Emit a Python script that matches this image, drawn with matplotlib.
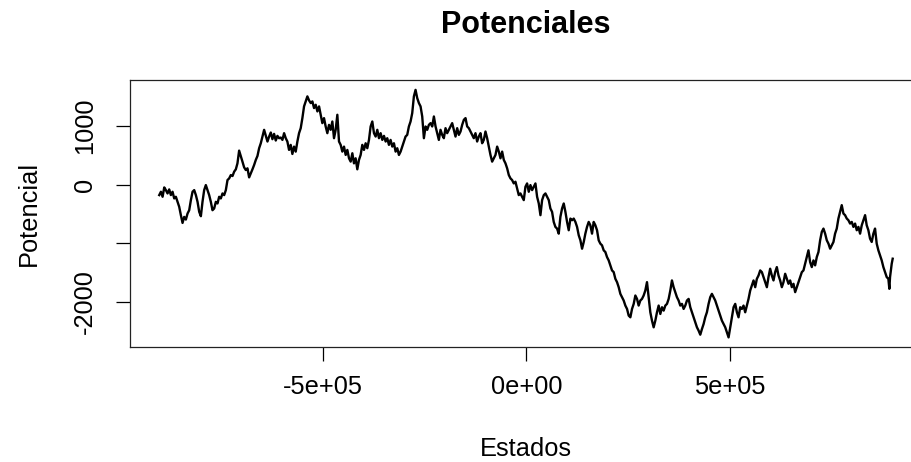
import matplotlib
matplotlib.use("Agg")
import matplotlib.pyplot as plt

# Trayectoria del potencial (estados en miles)
estados_miles = [
    -903.3, -899.2, -895.1, -891.0, -887.0, -882.9, -878.8, -874.7, -870.6, -866.5,
    -862.4, -858.3, -854.2, -850.1, -846.0, -841.9, -837.8, -833.7, -829.6, -825.5,
    -821.4, -817.3, -813.2, -809.1, -805.0, -800.9, -796.9, -792.8, -788.7, -784.6,
    -780.5, -776.4, -772.3, -768.2, -764.1, -760.0, -755.9, -751.8, -747.7, -743.6,
    -739.5, -735.4, -731.3, -727.2, -723.1, -719.0, -714.9, -710.9, -706.8, -702.7,
    -698.6, -694.5, -690.4, -686.3, -682.2, -678.1, -674.0, -669.9, -665.8, -661.7,
    -657.6, -653.5, -649.4, -645.3, -641.2, -637.1, -633.0, -628.9, -624.9, -620.8,
    -616.7, -612.6, -608.5, -604.4,
    -600.3, -596.2, -592.1, -588.1, -584.0, -579.9, -575.8, -571.7, -567.6, -563.5,
    -559.4, -555.3, -551.2, -547.1, -543.0, -538.9, -534.8, -530.7, -526.6, -522.5,
    -518.4, -514.3, -510.2, -506.2, -502.1, -498.0, -493.9, -489.8, -485.7, -481.6,
    -477.5, -473.4, -469.3, -465.2, -461.1, -457.0, -452.9, -448.8, -444.7, -440.6,
    -436.5, -432.4, -428.3, -424.3, -420.2, -416.1, -412.0, -407.9, -403.8, -399.7,
    -395.6, -391.5, -387.4, -383.3, -379.2, -375.1, -371.0, -366.9, -362.8, -358.7,
    -354.6, -350.5, -346.4, -342.4, -338.3, -334.2, -330.1, -326.0, -321.9, -317.8,
    -313.7, -309.6,
    -305.5, -301.4, -297.4, -293.3, -289.2, -285.1, -281.0, -276.9, -272.8, -268.7,
    -264.6, -260.5, -256.4, -252.3, -248.2, -244.1, -240.0, -235.9, -231.8, -227.7,
    -223.6, -219.5, -215.5, -211.4, -207.3, -203.2, -199.1, -195.0, -190.9, -186.8,
    -182.7, -178.6, -174.5, -170.4, -166.3, -162.2, -158.1, -154.0, -149.9, -145.8,
    -141.7, -137.6, -133.5, -129.5, -125.4, -121.3, -117.2, -113.1, -109.0, -104.9,
    -100.8, -96.7, -92.6, -88.5, -84.4, -80.3, -76.2, -72.1, -68.0, -63.9,
    -59.8, -55.7, -51.6, -47.5, -43.4, -39.3, -35.3, -31.2, -27.1, -23.0,
    -18.9, -14.8,
    -10.7, -6.6, -2.5, 1.6, 5.7, 9.8, 13.9, 18.0, 22.1, 26.2,
    30.3, 34.4, 38.5, 42.6, 46.7, 50.8, 54.9, 58.9, 63.0, 67.1,
    71.2, 75.3, 79.4, 83.5, 87.6, 91.7, 95.8, 99.9, 104.0, 108.1,
    112.2, 116.3, 120.4, 124.5, 128.6, 132.7, 136.8, 140.9, 144.9, 149.0,
    153.1, 157.2, 161.3, 165.4, 169.5, 173.6, 177.7, 181.8, 185.9, 190.0,
    194.1, 198.2, 202.3, 206.4, 210.5, 214.6, 218.7, 222.8, 226.9, 231.0,
    235.1, 239.2, 243.3, 247.4, 251.5, 255.6,
    259.7, 263.8, 267.9, 272.0, 276.0, 280.1, 284.2, 288.3, 292.4, 296.5,
    300.6, 304.7, 308.8, 312.9, 317.0, 321.1, 325.2, 329.3, 333.4, 337.5,
    341.6, 345.7, 349.8, 353.9, 357.9, 362.0, 366.1, 370.2, 374.3, 378.4,
    382.5, 386.6, 390.7, 394.8, 398.9, 403.0, 407.1, 411.2, 415.3, 419.4,
    423.5, 427.6, 431.7, 435.8, 439.8, 443.9, 448.0, 452.1, 456.2, 460.3,
    464.4, 468.5, 472.6, 476.7, 480.8, 484.9, 489.0, 493.1, 497.2, 501.3,
    505.4, 509.5, 513.6, 517.7, 521.7, 525.8, 529.9, 534.0, 538.1, 542.2,
    546.3, 550.4,
    554.5, 558.6, 562.7, 566.8, 570.9, 575.0, 579.1, 583.2, 587.3, 591.4,
    595.4, 599.5, 603.6, 607.7, 611.8, 615.9, 620.0, 624.1, 628.2, 632.3,
    636.4, 640.5, 644.6, 648.7, 652.8, 656.9, 661.0, 665.1, 669.2, 673.3,
    677.4, 681.4, 685.5, 689.6, 693.7, 697.8, 701.9, 706.0, 710.1, 714.2,
    718.3, 722.4, 726.5, 730.6, 734.7, 738.8, 742.9, 747.0, 751.1, 755.2,
    759.2, 763.3, 767.4, 771.5, 775.6, 779.7, 783.8, 787.9, 792.0, 796.1,
    800.2, 804.3, 808.4, 812.5, 816.6, 820.7, 824.8, 828.9, 833.0, 837.0,
    841.1, 845.2, 849.3, 853.4, 857.5, 861.6, 865.7, 869.8, 873.9, 878.0,
    882.1, 886.2, 890.3, 892.7, 894.4, 898.5, 900.9,
]

potencial = [
    -176, -119, -205, -45, -91, -148, -79, -176, -119, -233,
    -205, -291, -376, -519, -651, -548, -594, -491, -434, -262,
    -119, -91, -176, -291, -462, -536, -291, -91, -5, -91,
    -176, -291, -434, -405, -291, -319, -205, -233, -148, -176,
    -91, 81, 109, 166, 149, 224, 264, 366, 583, 492,
    395, 298, 252, 281, 126, 195, 264, 338, 424, 492,
    624, 709, 823, 938, 835, 738, 823, 892, 778, 869,
    755, 835, 795, 806,
    766, 881, 795, 738, 595, 681, 526, 652, 566, 738,
    881, 966, 1138, 1338, 1423, 1509, 1440, 1395, 1423, 1309,
    1366, 1252, 1338, 1195, 1052, 1138, 995, 881, 1023, 938,
    1080, 795, 938, 1195, 738, 681, 566, 652, 509, 595,
    452, 395, 538, 366, 452, 264, 424, 509, 681, 595,
    709, 624, 766, 995, 1080, 881, 823, 938, 795, 881,
    766, 835, 738, 795, 681, 766, 652, 709, 566, 624,
    509, 566,
    652, 738, 823, 852, 995, 1080, 1223, 1509, 1620, 1480,
    1395, 1338, 1166, 795, 995, 938, 1023, 1052, 995, 1166,
    995, 881, 766, 938, 852, 795, 966, 881, 938, 995,
    1052, 938, 823, 966, 852, 909, 1023, 1109, 1138, 995,
    966, 909, 852, 795, 881, 738, 823, 881, 709, 766,
    909, 795, 652, 509, 395, 452, 509, 652, 566, 452,
    566, 424, 366, 281, 166, 109, 81, 24, 52, -62,
    -176, -148,
    -205, -262, -34, 23, -119, -5, -91, -34, 23, -205,
    -319, -519, -262, -177, -148, -205, -262, -405, -462, -634,
    -719, -748, -834, -548, -405, -319, -462, -634, -776, -577,
    -605, -577, -634, -719, -862, -948, -1091, -977, -834, -719,
    -634, -691, -834, -634, -691, -776, -948, -1005, -1034, -1119,
    -1148, -1234, -1291, -1376, -1462, -1491, -1605, -1662, -1748, -1862,
    -1919, -1976, -2062, -2119, -2233, -2262,
    -2119, -2033, -1890, -1948, -2062, -1976, -1948, -1890, -1805, -1662,
    -1919, -2176, -2319, -2433, -2319, -2176, -2062, -2205, -2090, -2148,
    -2062, -2033, -1948, -1805, -1633, -1748, -1833, -1919, -1976, -2062,
    -2033, -2119, -2062, -1976, -1948, -2090, -2176, -2262, -2347, -2433,
    -2490, -2559, -2462, -2376, -2262, -2176, -2033, -1919, -1862, -1919,
    -1976, -2062, -2148, -2233, -2319, -2376, -2433, -2519, -2605, -2433,
    -2262, -2090, -2033, -2176, -2262, -2090, -2119, -2062, -2176, -2062,
    -1948, -1805,
    -1719, -1633, -1748, -1605, -1548, -1462, -1491, -1576, -1662, -1748,
    -1576, -1433, -1548, -1633, -1491, -1405, -1548, -1633, -1748, -1662,
    -1519, -1605, -1690, -1633, -1748, -1690, -1833, -1748, -1662, -1576,
    -1491, -1462, -1348, -1233, -1119, -1319, -1405, -1291, -1376, -1233,
    -1148, -948, -805, -748, -834, -948, -1005, -1091, -1034, -976,
    -834, -748, -576, -462, -348, -491, -519, -576, -605, -662,
    -634, -719, -662, -776, -719, -834, -691, -605, -519, -691,
    -776, -919, -976, -834, -748, -1005, -1119, -1205, -1291, -1405,
    -1491, -1576, -1605, -1776, -1576, -1348, -1262,
]

x_ticks = [-5e5, 0, 5e5]
x_tick_labels = ["-5e+05", "0e+00", "5e+05"]
y_ticks = [-2000, -1000, 0, 1000]
y_tick_labels = ["-2000", "", "0", "1000"]

plt.rcParams["font.family"] = ["Liberation Sans", "DejaVu Sans"]

estados = [e * 1000 for e in estados_miles]

fig = plt.figure(figsize=(9.11, 4.62), dpi=100)
ax = fig.add_axes([0.1426, 0.2483, 0.8695, 0.5786])
ax.plot(estados, potencial, color="black", linewidth=1.7)

# limites al estilo de R: 4% de margen sobre el rango de los datos
x_pad = 0.04 * (max(estados) - min(estados))
y_pad = 0.04 * (max(potencial) - min(potencial))
ax.set_xlim(min(estados) - x_pad, max(estados) + x_pad)
ax.set_ylim(min(potencial) - y_pad, max(potencial) + y_pad)

ax.set_xticks(x_ticks, x_tick_labels)
ax.set_yticks(y_ticks, y_tick_labels)
ax.tick_params(axis="both", direction="out", length=10, width=0.9,
               labelsize=18.3, colors="black")
ax.tick_params(axis="x", pad=10)
ax.tick_params(axis="y", pad=13.5)
for lab in ax.get_yticklabels():
    lab.set_rotation(90)
    lab.set_va("center")

for side in ax.spines.values():
    side.set_linewidth(0.9)
    side.set_color("#222222")

ax.set_title("Potenciales", fontsize=22, fontweight="bold", pad=33.6)
ax.set_xlabel("Estados", fontsize=18.3, labelpad=27.5)
ax.set_ylabel("Potencial", fontsize=18.3, labelpad=23)

fig.savefig("out.png", dpi=100, facecolor="white")
